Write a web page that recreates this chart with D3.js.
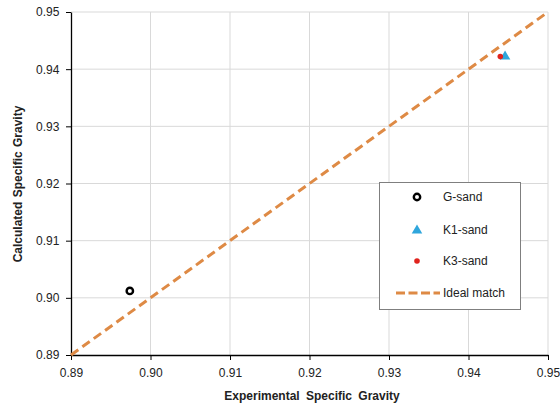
<!DOCTYPE html>
<html>
<head>
<meta charset="utf-8">
<script src="https://cdn.jsdelivr.net/npm/d3@7"></script>
<style>
  html, body { margin: 0; padding: 0; background: #fff; }
  svg { display: block; font-family: "Liberation Sans", Arial, sans-serif; }
</style>
</head>
<body>
<svg id="chart" width="560" height="408"></svg>
<script>
// Series: [experimental, calculated]
const gSand = [[0.8974, 0.9012]];
const k1Sand = [[0.9446, 0.9423]];
const k3Sand = [[0.9440, 0.9422]];
const idealMatch = [[0.89, 0.89], [0.95, 0.95]];
const xTicks = [0.89, 0.90, 0.91, 0.92, 0.93, 0.94, 0.95];
const yTicks = [0.89, 0.90, 0.91, 0.92, 0.93, 0.94, 0.95];
const legendLabels = ["G-sand", "K1-sand", "K3-sand", "Ideal match"];

const svg = d3.select("#chart");
const plotL = 71, plotR = 548, plotT = 12, plotB = 355;
const fs = 12;

const x = d3.scaleLinear().domain([0.89, 0.95]).range([plotL, plotR]);
const y = d3.scaleLinear().domain([0.89, 0.95]).range([plotB, plotT]);

// grid
svg.append("g").selectAll("line").data(xTicks.slice(1)).join("line")
  .attr("x1", d => x(d)).attr("x2", d => x(d))
  .attr("y1", plotT).attr("y2", plotB)
  .attr("stroke", "#d9d9d9").attr("stroke-width", 1);
svg.append("g").selectAll("line").data(yTicks.slice(1)).join("line")
  .attr("y1", d => y(d)).attr("y2", d => y(d))
  .attr("x1", plotL).attr("x2", plotR)
  .attr("stroke", "#d9d9d9").attr("stroke-width", 1);

// axes
const xAxis = svg.append("g").attr("transform", `translate(0,${plotB})`)
  .call(d3.axisBottom(x).tickValues(xTicks).tickFormat(d3.format(".2f")).tickSize(5).tickSizeOuter(0));
const yAxis = svg.append("g").attr("transform", `translate(${plotL},0)`)
  .call(d3.axisLeft(y).tickValues(yTicks).tickFormat(d3.format(".2f")).tickSize(5).tickSizeOuter(0));
[xAxis, yAxis].forEach(a => {
  a.select(".domain").attr("stroke", "#000").attr("stroke-width", 1.3);
  a.selectAll(".tick line").attr("stroke", "#000");
  a.selectAll(".tick text").attr("font-size", fs).attr("fill", "#222")
    .attr("font-family", "Liberation Sans, Arial, sans-serif");
});
xAxis.selectAll(".tick text").attr("dy", "1.15em");
yAxis.selectAll(".tick text").attr("dx", "-0.3em");

// ideal match line
const line = d3.line().x(d => x(d[0])).y(d => y(d[1]));
svg.append("path").datum(idealMatch).attr("d", line)
  .attr("fill", "none").attr("stroke", "#de8a45").attr("stroke-width", 3)
  .attr("stroke-dasharray", "9,5");

// points
svg.append("g").selectAll("circle").data(gSand).join("circle")
  .attr("cx", d => x(d[0])).attr("cy", d => y(d[1])).attr("r", 3.2)
  .attr("fill", "#fff").attr("stroke", "#000").attr("stroke-width", 2.4);
const tri = d3.symbol().type(d3.symbolTriangle).size(48);
svg.append("g").selectAll("path").data(k1Sand).join("path")
  .attr("transform", d => `translate(${x(d[0])},${y(d[1]) + 0.5})`)
  .attr("d", tri).attr("fill", "#2fa6dc");
svg.append("g").selectAll("circle").data(k3Sand).join("circle")
  .attr("cx", d => x(d[0])).attr("cy", d => y(d[1])).attr("r", 2.8)
  .attr("fill", "#e0231d");

// legend
const lg = svg.append("g");
lg.append("rect").attr("x", 379.5).attr("y", 182.5).attr("width", 141).attr("height", 127)
  .attr("fill", "#fff").attr("stroke", "#7f7f7f").attr("stroke-width", 1);
const rows = [197, 230, 261, 293];
const symX = 417;
lg.append("circle").attr("cx", symX).attr("cy", rows[0]).attr("r", 3.2)
  .attr("fill", "#fff").attr("stroke", "#000").attr("stroke-width", 2.4);
lg.append("path").attr("transform", `translate(${symX},${rows[1] + 0.5})`).attr("d", tri).attr("fill", "#2fa6dc");
lg.append("circle").attr("cx", symX).attr("cy", rows[2]).attr("r", 2.8).attr("fill", "#e0231d");
lg.append("line").attr("x1", 396).attr("x2", 440).attr("y1", rows[3]).attr("y2", rows[3])
  .attr("stroke", "#de8a45").attr("stroke-width", 3).attr("stroke-dasharray", "9,3.5");
lg.selectAll("text").data(legendLabels).join("text")
  .attr("x", 443).attr("y", (d, i) => rows[i]).attr("dy", "0.35em")
  .attr("font-size", fs).attr("fill", "#222").text(d => d);

// axis titles
svg.append("text").attr("x", 312).attr("y", 400).attr("text-anchor", "middle")
  .attr("font-size", fs).attr("font-weight", "bold").attr("fill", "#222")
  .attr("word-spacing", 3)
  .text("Experimental Specific Gravity");
svg.append("text").attr("transform", `translate(22,184) rotate(-90)`)
  .attr("text-anchor", "middle").attr("font-size", fs).attr("font-weight", "bold").attr("fill", "#222")
  .attr("word-spacing", 1)
  .text("Calculated Specific Gravity");
</script>
</body>
</html>
